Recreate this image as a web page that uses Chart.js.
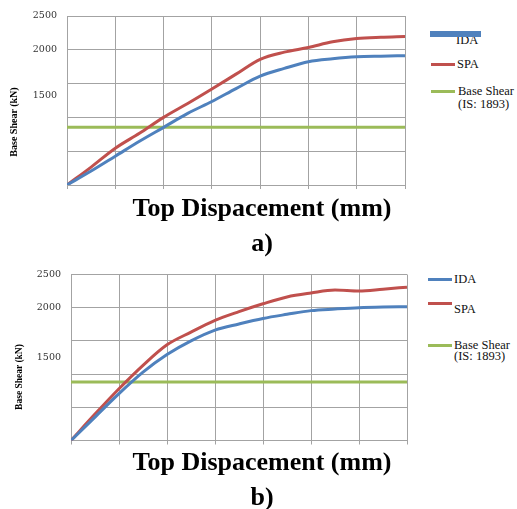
<!DOCTYPE html>
<html>
<head>
<meta charset="utf-8">
<script src="https://cdn.jsdelivr.net/npm/chart.js@4/dist/chart.umd.min.js"></script>
<style>
  body { margin: 0; background: #fff; }
  #page { position: relative; width: 517px; height: 509px; overflow: hidden; }
  canvas { position: absolute; left: 0; }
  .t { position: absolute; white-space: nowrap; line-height: 1; color: #111; transform: translateY(-50%);
       font-family: "Liberation Serif", "Times New Roman", serif; }
  .c { transform: translate(-50%, -50%); }
  .big { font-size: 26px; font-weight: bold; color: #000; }
  .leg { font-size: 12.5px; }
  .ytitle { font-weight: bold; color: #000; transform: translate(-50%, -50%) rotate(-90deg); }
  .sw { position: absolute; height: 3px; }
</style>
</head>
<body>
<div id="page">
  <canvas id="chartA" width="420" height="201" style="top:0"></canvas>
  <canvas id="chartB" width="420" height="203" style="top:256px"></canvas>

  <!-- chart a) texts -->
  <div class="t ytitle" style="left:14px;top:122px;font-size:10px">Base Shear (kN)</div>
  <div class="t c big" style="left:262px;top:208px">Top Dispacement (mm)</div>
  <div class="t c big" style="left:262px;top:243px">a)</div>

  <div class="t leg" style="left:456px;top:40px">IDA</div>
  <div class="sw" style="left:430px;top:31px;width:51px;height:6px;background:#4F81BD"></div>
  <div class="sw" style="left:431px;top:63px;width:24px;background:#C0504D"></div>
  <div class="t leg" style="left:457px;top:64px">SPA</div>
  <div class="sw" style="left:431px;top:90px;width:24px;background:#9BBB59"></div>
  <div class="t leg" style="left:458px;top:91px">Base Shear</div>
  <div class="t leg" style="left:458px;top:104px">(IS: 1893)</div>

  <!-- chart b) texts -->
  <div class="t ytitle" style="left:20px;top:377px;font-size:9.5px">Base Shear (kN)</div>
  <div class="t c big" style="left:262px;top:462px">Top Dispacement (mm)</div>
  <div class="t c big" style="left:262px;top:497px">b)</div>

  <div class="sw" style="left:428px;top:278px;width:24px;background:#4F81BD"></div>
  <div class="t leg" style="left:454px;top:279px">IDA</div>
  <div class="sw" style="left:428px;top:302px;width:24px;background:#C0504D"></div>
  <div class="t leg" style="left:454px;top:309px">SPA</div>
  <div class="sw" style="left:428px;top:344px;width:24px;background:#9BBB59"></div>
  <div class="t leg" style="left:454px;top:345px">Base Shear</div>
  <div class="t leg" style="left:454px;top:356px">(IS: 1893)</div>
</div>

<script>
// x positions in grid divisions (the axis has no numbers in the figure)
const dispGrid = [0, 0.5, 1, 1.5, 2, 2.5, 3, 3.5, 4, 4.5, 5, 5.5, 6, 6.5, 7];

// a)
const idaA = [0, 206, 426, 647, 853, 1059, 1235, 1426, 1610, 1725, 1824, 1868, 1897, 1906, 1912];
const spaA = [0, 265, 544, 765, 1000, 1206, 1420, 1640, 1860, 1965, 2034, 2118, 2166, 2185, 2196];
const codeShearA = 853;

// b)
const idaB = [0, 353, 706, 1029, 1294, 1500, 1662, 1755, 1838, 1900, 1956, 1980, 2000, 2010, 2015];
const spaB = [0, 397, 779, 1132, 1441, 1632, 1809, 1941, 2059, 2162, 2221, 2265, 2250, 2279, 2309];
const codeShearB = 882;

const yTickLabels = [2500, 2000, 1500];

const BLUE = "#4F81BD", RED = "#C0504D", GREEN = "#9BBB59";
const GRID = "#a3a3a3";

function pts(ys) {
  return ys.map((y, i) => ({ x: dispGrid[i], y: y }));
}

function makeChart(id, ida, spa, codeShear, yWidth, padRight, lineGap) {
  const ctx = document.getElementById(id).getContext("2d");
  return new Chart(ctx, {
    type: "line",
    data: {
      datasets: [
        { label: "IDA", data: pts(ida), borderColor: BLUE },
        { label: "SPA", data: pts(spa), borderColor: RED },
        { label: "Base Shear (IS: 1893)", data: [{ x: 0, y: codeShear }, { x: 7, y: codeShear }], borderColor: GREEN }
      ]
    },
    options: {
      responsive: false,
      animation: false,
      layout: { padding: { top: 14, right: padRight, bottom: 2, left: 0 } },
      elements: {
        line: { borderWidth: 3, cubicInterpolationMode: "monotone", fill: false },
        point: { radius: 0 }
      },
      plugins: { legend: { display: false }, tooltip: { enabled: false } },
      scales: {
        x: {
          type: "linear", min: 0, max: 7,
          ticks: { stepSize: 1, display: false },
          grid: { color: GRID, tickLength: 4 },
          border: { color: GRID }
        },
        y: {
          min: 0, max: 2500,
          afterFit: s => { s.width = yWidth; },
          ticks: {
            stepSize: 500,
            autoSkip: false,
            padding: 10,
            color: "#333",
            font: { family: "DejaVu Serif", size: 9.5, lineHeight: lineGap + "px" },
            // the 1500 label sits a little below its gridline in the figure
            callback: v => {
              if (!yTickLabels.includes(v)) return "";
              return v === 1500 ? ["", "", String(v)] : String(v);
            }
          },
          grid: { color: GRID, drawTicks: false },
          border: { color: GRID }
        }
      }
    }
  });
}

makeChart("chartA", idaA, spaA, codeShearA, 67, 15, 12);
makeChart("chartB", idaB, spaB, codeShearB, 71, 13, 17);
</script>
</body>
</html>
